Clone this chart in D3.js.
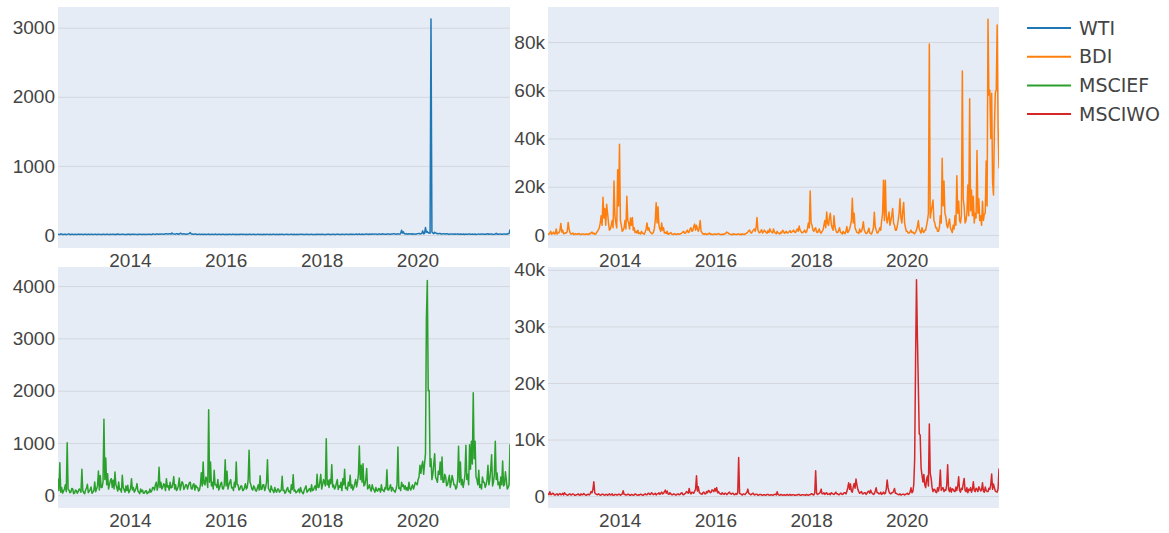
<!doctype html>
<html lang="en">
  <head>
    <meta charset="UTF-8" />
    <title>WTI / BDI / MSCIEF / MSCIWO</title>
    <script src="https://d3js.org/d3.v7.min.js"></script>
    <style>
      body {
        margin: 0;
        background: #ffffff;
      }
      svg {
        display: block;
        font-family: 'DejaVu Sans', Verdana, sans-serif;
      }
      .tick text {
        fill: #444444;
        font-size: 19px;
      }
      .legend-label {
        fill: #444444;
        font-size: 19px;
      }
    </style>
  </head>
  <body>
    <svg id="chart" width="1169" height="533"></svg>
    <script>
      // Series names (legend order)
      const seriesNames = ['WTI', 'BDI', 'MSCIEF', 'MSCIWO']

      // Weekly values, starting early July 2012
      const wti = [
        12, 9, 8, 14, 15, 7, 6, 11, 10, 5, 9, 13, 14, 8, 7, 10, 11, 6, 8, 12,
        9, 7, 13, 10, 6, 12, 10, 8, 8, 11, 12, 6, 7, 13, 9, 8, 11, 10, 6, 9,
        10, 12, 8, 7, 12, 10, 9, 6, 7, 11, 11, 9, 8, 13, 10, 7, 6, 10, 9, 12,
        12, 8, 7, 11, 9, 14, 11, 6, 8, 10, 10, 12, 6, 9, 9, 7, 13, 11, 7, 10,
        8, 13, 10, 7, 12, 9, 6, 10, 9, 12, 11, 8, 7, 11, 10, 6, 8, 12, 9, 10,
        11, 9, 8, 14, 13, 10, 9, 15, 14, 11, 10, 16, 12, 13, 16, 12, 11, 20, 18, 13,
        14, 17, 20, 12, 30, 18, 15, 13, 12, 19, 18, 11, 14, 24, 22, 15, 13, 17, 16, 11,
        12, 15, 17, 22, 35, 16, 14, 10, 11, 13, 15, 9, 9, 12, 12, 8, 10, 11, 8, 10,
        11, 7, 9, 12, 13, 8, 7, 10, 10, 9, 8, 13, 12, 6, 9, 11, 11, 8, 7, 10,
        10, 9, 8, 11, 9, 7, 12, 10, 6, 8, 10, 12, 8, 7, 11, 9, 9, 10, 7, 11,
        10, 8, 12, 9, 8, 11, 9, 6, 11, 10, 7, 9, 10, 12, 8, 7, 9, 10, 12, 8,
        6, 10, 9, 8, 11, 7, 8, 12, 10, 9, 7, 11, 9, 8, 12, 10, 8, 9, 10, 7,
        7, 11, 9, 10, 11, 8, 8, 9, 10, 12, 6, 8, 9, 10, 12, 7, 8, 11, 7, 9,
        10, 8, 8, 12, 9, 10, 11, 7, 7, 9, 10, 11, 8, 6, 9, 10, 12, 8, 6, 9,
        9, 11, 8, 10, 10, 7, 7, 12, 11, 9, 9, 8, 8, 10, 10, 11, 6, 9, 9, 12,
        11, 8, 8, 10, 10, 13, 9, 7, 7, 11, 12, 9, 8, 10, 10, 12, 9, 8, 11, 13,
        8, 12, 10, 9, 12, 14, 9, 11, 14, 10, 8, 13, 11, 9, 10, 15, 13, 11, 9, 14,
        12, 10, 15, 13, 10, 16, 13, 11, 9, 14, 16, 12, 11, 17, 14, 10, 10, 13, 12, 16,
        15, 12, 11, 16, 13, 20, 18, 14, 12, 17, 16, 13, 14, 22, 70, 30, 45, 18, 15, 20,
        12, 16, 18, 13, 14, 19, 11, 15, 16, 12, 13, 18, 20, 24, 15, 19, 22, 60, 18, 25,
        110, 40, 50, 30, 35, 25, 3126, 45, 30, 20, 40, 28, 25, 18, 18, 22, 22, 14, 15, 19,
        20, 15, 14, 18, 17, 12, 12, 16, 16, 13, 11, 15, 15, 10, 13, 17, 10, 12, 14, 11,
        12, 15, 9, 11, 13, 10, 11, 14, 15, 12, 10, 13, 12, 9, 14, 11, 9, 13, 13, 10,
        11, 14, 15, 12, 10, 13, 12, 16, 18, 11, 11, 15, 14, 10, 9, 12, 13, 25, 12, 14,
        10, 13, 15, 11, 11, 16, 14, 12, 12, 18, 16, 20, 80,
      ]

      const bdi = [
        500, 300, 800, 1500, 300, 600, 1200, 400, 600, 2500, 400, 800, 900, 2000, 4800, 1200, 2000, 500, 600, 900,
        800, 1500, 5200, 2500, 1000, 400, 500, 800, 300, 200, 600, 300, 300, 500, 600, 200, 200, 400, 400, 300,
        300, 200, 500, 300, 200, 600, 400, 900, 1200, 500, 800, 300, 400, 1000, 1500, 2200, 3000, 5000, 8000, 4000,
        15600, 7000, 11000, 4000, 12700, 9000, 5000, 2000, 2500, 4000, 6000, 3000, 22400, 8000, 5000, 3000, 27000, 12000, 37600, 6000,
        4000, 1500, 2000, 3000, 6000, 2500, 16000, 6000, 5000, 2500, 7000, 4000, 7200, 2000, 3000, 1000, 1500, 800, 2000, 600,
        800, 400, 1500, 700, 600, 300, 1200, 2500, 5000, 2000, 3000, 1500, 1000, 600, 500, 1200, 2500, 6000, 13400, 5000,
        11700, 4000, 2500, 1500, 5000, 2000, 3000, 800, 1000, 600, 1500, 300, 400, 700, 1000, 400, 300, 200, 600, 300,
        200, 400, 500, 300, 300, 600, 800, 1200, 1500, 700, 800, 1500, 2000, 1000, 1200, 2500, 3000, 1500, 1800, 3500,
        4500, 2000, 4000, 2500, 1500, 3000, 6000, 1500, 1000, 400, 500, 300, 600, 200, 300, 500, 800, 300, 400, 200,
        200, 300, 500, 200, 300, 400, 600, 300, 200, 100, 400, 200, 300, 500, 700, 1200, 1000, 600, 400, 300,
        200, 100, 500, 300, 300, 200, 200, 400, 400, 200, 300, 100, 500, 300, 200, 400, 600, 900, 1200, 1800,
        2000, 1000, 800, 1500, 2000, 2500, 1500, 3000, 7200, 2000, 1200, 900, 1500, 2200, 800, 1200, 2000, 1500, 1000, 700,
        1800, 1000, 2600, 1500, 1200, 800, 2500, 1200, 800, 500, 1500, 900, 600, 400, 1200, 800, 2000, 1400, 700, 1100,
        1500, 800, 900, 1300, 1800, 1000, 1200, 1600, 2000, 1200, 1000, 1800, 2500, 1500, 3700, 2000, 1500, 900, 1000, 1400,
        2000, 1000, 1200, 2500, 5000, 3000, 18200, 5000, 4000, 2000, 1500, 2500, 3000, 1200, 1000, 1800, 2500, 1000, 800, 1500,
        2000, 4000, 6000, 3000, 9500, 5000, 4000, 7000, 9000, 4500, 3000, 2000, 8000, 3500, 2000, 1000, 1000, 1800, 3000, 1200,
        800, 400, 1500, 800, 500, 1500, 3500, 1000, 1500, 2500, 4000, 6000, 15200, 5000, 9000, 3000, 2000, 1000, 1000, 600,
        2500, 1200, 1500, 3000, 5500, 2000, 1200, 600, 800, 1500, 2800, 900, 600, 400, 1500, 3000, 9400, 3500, 2000, 800,
        1000, 1800, 3000, 2000, 6000, 9000, 22700, 6000, 22700, 8000, 5000, 7000, 9500, 4000, 6000, 8000, 11000, 5000, 4000, 2000,
        2000, 3500, 6000, 9000, 15000, 7000, 5000, 10000, 13500, 5000, 3000, 1500, 1500, 800, 800, 1200, 2000, 1000, 1200, 700,
        500, 1200, 2000, 3500, 6000, 2500, 1500, 800, 3000, 1500, 1000, 2000, 2000, 4000, 6000, 9000, 79200, 7000, 9700, 12000,
        14500, 6000, 5000, 3000, 3000, 1500, 1500, 3000, 8000, 5000, 31800, 12000, 22400, 9000, 7600, 4000, 3000, 5000, 6600, 3000,
        2000, 1000, 4000, 2500, 8000, 4000, 24600, 9000, 14000, 6000, 5000, 8000, 68000, 15000, 11700, 5000, 6000, 9000, 20700, 8000,
        56500, 10000, 18600, 8000, 16000, 5000, 9000, 7000, 35000, 9000, 15000, 6000, 8000, 4000, 14000, 6000, 8600, 9000, 30700, 12000,
        89400, 58000, 60000, 40000, 58700, 22000, 16600, 45000, 59000, 60000, 87000, 45000, 27600,
      ]

      const msciEF = [
        320, 90, 624, 60, 150, 40, 80, 120, 200, 70, 1006, 110, 100, 50, 60, 130, 120, 30, 40, 100,
        90, 40, 70, 120, 110, 60, 497, 90, 50, 30, 100, 140, 210, 50, 80, 110, 160, 40, 60, 90,
        255, 70, 120, 180, 465, 100, 380, 150, 150, 250, 1452, 300, 713, 200, 414, 120, 200, 280, 318, 150,
        290, 120, 446, 200, 150, 80, 255, 110, 120, 60, 382, 150, 100, 60, 180, 90, 191, 50, 80, 130,
        318, 100, 150, 60, 90, 140, 223, 80, 60, 30, 120, 70, 100, 40, 40, 80, 90, 30, 60, 50,
        120, 60, 80, 150, 150, 100, 200, 250, 100, 180, 535, 150, 250, 120, 150, 220, 200, 90, 318, 160,
        180, 100, 250, 140, 150, 220, 357, 120, 200, 90, 120, 180, 331, 100, 180, 260, 230, 110, 150, 200,
        200, 120, 180, 240, 250, 130, 120, 200, 220, 100, 190, 150, 150, 80, 100, 200, 433, 180, 637, 220,
        200, 350, 300, 150, 1637, 250, 637, 180, 250, 120, 478, 200, 200, 150, 300, 100, 150, 220, 250, 130,
        120, 200, 681, 180, 459, 120, 200, 250, 300, 140, 150, 90, 250, 160, 637, 200, 200, 100, 120, 180,
        180, 90, 100, 150, 220, 120, 150, 300, 860, 250, 200, 120, 100, 180, 150, 90, 80, 140, 200, 100,
        375, 110, 120, 200, 200, 90, 150, 250, 681, 130, 100, 60, 180, 110, 90, 50, 150, 80, 60, 120,
        120, 60, 80, 100, 363, 90, 100, 40, 60, 120, 150, 70, 80, 40, 200, 110, 395, 80, 100, 50,
        60, 90, 120, 50, 150, 80, 50, 30, 100, 140, 180, 60, 80, 110, 130, 70, 200, 90, 100, 150,
        180, 100, 400, 150, 150, 250, 400, 120, 200, 300, 250, 180, 1083, 200, 287, 150, 300, 220, 586, 160,
        200, 120, 150, 230, 300, 110, 180, 150, 250, 90, 318, 200, 497, 130, 150, 100, 250, 180, 382, 140,
        200, 100, 150, 220, 300, 160, 250, 400, 943, 300, 573, 250, 605, 180, 200, 300, 510, 120, 150, 200,
        120, 80, 200, 130, 100, 60, 150, 90, 80, 130, 120, 60, 200, 100, 100, 70, 150, 120, 490, 100,
        100, 150, 200, 80, 150, 110, 80, 60, 120, 200, 924, 130, 150, 90, 250, 170, 200, 120, 180, 100,
        150, 90, 250, 130, 100, 160, 200, 120, 180, 250, 223, 200, 300, 350, 573, 420, 573, 650, 400, 600,
        796, 3380, 4109, 2000, 2006, 550, 700, 300, 400, 600, 796, 350, 300, 250, 459, 400, 637, 300, 732, 250,
        250, 400, 350, 180, 200, 300, 382, 150, 250, 380, 300, 200, 200, 120, 150, 300, 936, 250, 637, 200,
        300, 150, 250, 400, 955, 300, 400, 200, 968, 500, 1032, 600, 1962, 700, 1032, 350, 300, 200, 478, 150,
        200, 120, 350, 250, 250, 150, 200, 300, 573, 200, 300, 500, 777, 180, 250, 400, 1032, 300, 427, 200,
        250, 130, 350, 200, 656, 180, 200, 450, 300, 120, 150, 200, 975,
      ]

      const msciWO = [
        500, 250, 770, 300, 300, 500, 450, 200, 200, 350, 400, 150, 350, 450, 250, 300, 500, 200, 590, 350,
        300, 150, 200, 350, 400, 200, 250, 400, 350, 150, 150, 250, 300, 400, 200, 150, 400, 250, 250, 450,
        300, 200, 150, 300, 350, 200, 400, 800, 600, 1200, 2537, 600, 400, 300, 250, 400, 300, 150, 200, 350,
        350, 200, 150, 300, 300, 150, 250, 400, 200, 250, 400, 150, 150, 300, 300, 200, 200, 350, 350, 150,
        250, 400, 944, 300, 300, 200, 200, 350, 350, 150, 150, 300, 250, 150, 200, 400, 300, 200, 150, 250,
        200, 350, 300, 150, 150, 300, 400, 250, 250, 450, 500, 300, 300, 600, 450, 250, 350, 500, 200, 400,
        400, 600, 300, 500, 700, 400, 500, 800, 1062, 500, 900, 400, 300, 600, 400, 250, 250, 400, 350, 200,
        200, 350, 400, 250, 300, 500, 600, 300, 250, 400, 500, 800, 700, 500, 1357, 600, 400, 700, 600, 500,
        900, 1200, 3600, 900, 1652, 700, 500, 400, 300, 600, 700, 400, 400, 800, 600, 1000, 900, 600, 700, 1100,
        1000, 800, 1357, 900, 1500, 600, 800, 500, 400, 300, 600, 400, 300, 500, 500, 250, 400, 600, 700, 400,
        350, 500, 500, 250, 300, 450, 300, 600, 6844, 500, 400, 300, 200, 400, 350, 250, 500, 700, 1239, 500,
        400, 250, 300, 450, 500, 200, 250, 350, 350, 150, 200, 300, 300, 200, 150, 250, 250, 150, 200, 300,
        300, 200, 150, 250, 250, 150, 200, 300, 350, 200, 770, 300, 200, 150, 300, 250, 150, 200, 250, 150,
        200, 300, 150, 200, 300, 150, 200, 250, 250, 150, 150, 200, 200, 300, 300, 150, 150, 250, 250, 200,
        200, 150, 300, 200, 150, 250, 250, 400, 400, 250, 200, 600, 4484, 500, 300, 400, 500, 700, 1239, 400,
        400, 600, 300, 500, 600, 300, 350, 450, 250, 600, 500, 350, 300, 500, 700, 400, 400, 250, 300, 500,
        500, 300, 350, 600, 600, 400, 800, 1500, 2360, 1200, 2124, 900, 700, 1600, 2242, 1400, 3009, 2000, 1200, 800,
        500, 700, 800, 400, 400, 600, 600, 300, 500, 800, 900, 500, 1062, 600, 500, 300, 400, 900, 1475, 600,
        600, 400, 400, 700, 300, 500, 700, 400, 500, 1200, 2832, 1500, 800, 500, 400, 600, 600, 900, 1357, 500,
        500, 350, 300, 250, 400, 200, 250, 350, 350, 200, 300, 400, 500, 300, 400, 700, 1475, 600, 800, 2000,
        6490, 24000, 38232, 28000, 19647, 11000, 10797, 5000, 3717, 2500, 3835, 2000, 1500, 3000, 3540, 1800, 12744, 4000, 3127, 1500,
        800, 1200, 1180, 700, 600, 1500, 900, 1800, 4602, 1000, 1357, 1500, 800, 1100, 1000, 2000, 5546, 1200, 800, 1500,
        700, 1300, 1200, 900, 800, 1600, 1000, 1800, 3422, 1000, 700, 1400, 1200, 2200, 3127, 1000, 800, 1500, 600, 1200,
        1000, 1500, 700, 1200, 2537, 1000, 800, 1400, 1200, 800, 1652, 1300, 900, 1100, 2360, 900, 700, 1600, 1000, 800,
        800, 1400, 1200, 2000, 3894, 1200, 2124, 1500, 900, 800, 700, 1300, 4897,
      ]

      // Y tick values per panel
      const wtiTicks = [0, 1000, 2000, 3000]
      const bdiTicks = [0, 20000, 40000, 60000, 80000]
      const msciEFTicks = [0, 1000, 2000, 3000, 4000]
      const msciWOTicks = [0, 10000, 20000, 30000, 40000]

      const startDate = new Date(2012, 6, 2)
      const dates = wti.map((_, i) => d3.timeDay.offset(startDate, 7 * i))

      const colors = ['#1f77b4', '#ff7f0e', '#2ca02c', '#d62728']
      const plotBg = '#e5ecf6'
      const gridColor = '#d3d7de'

      // Panel boxes in pixels
      const cols = [
        { x0: 58, x1: 510 },
        { x0: 548, x1: 999 },
      ]
      const rows = [
        { y0: 7, y1: 248 },
        { y0: 267, y1: 508 },
      ]

      const panels = [
        { values: wti, ticks: wtiTicks, yDomain: [-188, 3300], col: 0, row: 0 },
        { values: bdi, ticks: bdiTicks, yDomain: [-5400, 94500], col: 1, row: 0 },
        { values: msciEF, ticks: msciEFTicks, yDomain: [-243, 4365], col: 0, row: 1 },
        { values: msciWO, ticks: msciWOTicks, yDomain: [-2100, 40500], col: 1, row: 1 },
      ]

      const svg = d3.select('#chart')
      const fmtK = d3.format('~s')
      const yFormat = (v) => (Math.abs(v) >= 10000 ? fmtK(v) : String(v))

      panels.forEach((p, i) => {
        const c = cols[p.col]
        const r = rows[p.row]
        const w = c.x1 - c.x0
        const h = r.y1 - r.y0

        const x = d3.scaleTime().domain(d3.extent(dates)).range([0, w])
        const y = d3.scaleLinear().domain(p.yDomain).range([h, 0])

        const g = svg.append('g').attr('transform', `translate(${c.x0},${r.y0})`)

        g.append('rect').attr('width', w).attr('height', h).attr('fill', plotBg)

        g.append('clipPath')
          .attr('id', `clip${i}`)
          .append('rect')
          .attr('width', w)
          .attr('height', h)

        // y axis with gridlines
        g.append('g')
          .call(
            d3
              .axisLeft(y)
              .tickValues(p.ticks)
              .tickSize(-w)
              .tickPadding(3)
              .tickFormat(yFormat)
          )
          .call((a) => a.select('.domain').remove())
          .call((a) => a.selectAll('.tick line').attr('stroke', gridColor).attr('stroke-width', 1))

        // x axis, labels only
        g.append('g')
          .attr('transform', `translate(0,${h})`)
          .call(
            d3
              .axisBottom(x)
              .ticks(d3.timeYear.every(2))
              .tickSize(0)
              .tickPadding(6)
              .tickFormat(d3.timeFormat('%Y'))
          )
          .call((a) => a.select('.domain').remove())

        const line = d3
          .line()
          .x((d, k) => x(dates[k]))
          .y((d) => y(d))

        g.append('path')
          .datum(p.values)
          .attr('clip-path', `url(#clip${i})`)
          .attr('fill', 'none')
          .attr('stroke', colors[i])
          .attr('stroke-width', 1.5)
          .attr('stroke-linejoin', 'round')
          .attr('d', line)
      })

      // Legend
      const legend = svg.append('g').attr('transform', 'translate(1027,28)')
      seriesNames.forEach((name, i) => {
        const item = legend.append('g').attr('transform', `translate(0,${i * 28.7})`)
        item.append('line')
          .attr('x1', 0)
          .attr('x2', 44)
          .attr('stroke', colors[i])
          .attr('stroke-width', 2)
        item.append('text')
          .attr('class', 'legend-label')
          .attr('x', 52)
          .attr('dy', '0.35em')
          .text(name)
      })
    </script>
  </body>
</html>
